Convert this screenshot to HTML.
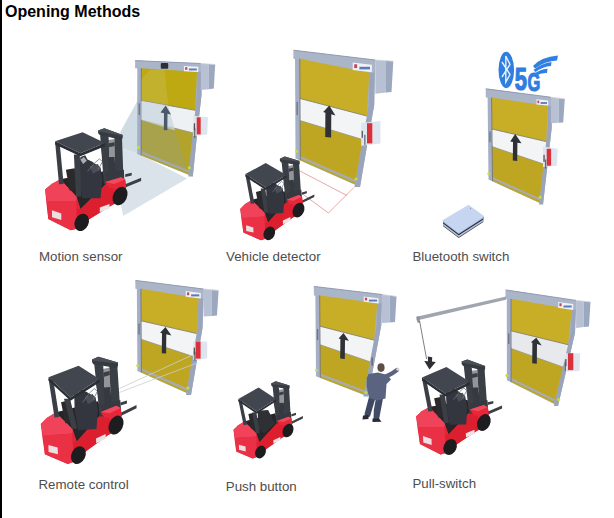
<!DOCTYPE html>
<html><head><meta charset="utf-8">
<style>
html,body{margin:0;padding:0;background:#fff;}
body{width:614px;height:518px;position:relative;overflow:hidden;font-family:"Liberation Sans",sans-serif;}
#bar{position:absolute;left:0;top:0;width:2px;height:518px;background:#000;}
#title{position:absolute;left:5px;top:3.8px;font-size:16px;line-height:16px;font-weight:bold;color:#000;white-space:nowrap;}
.lb{position:absolute;font-size:13.3px;line-height:13.3px;color:#4d4d4d;white-space:nowrap;}
svg{position:absolute;left:0;top:0;}
</style></head><body>
<svg width="614" height="518" viewBox="0 0 614 518">
<polygon points="139.0,98.0 120.3,132.0 121.0,148.0 139.0,154.0" fill="#cfdce4"/>
<polygon points="121.0,148.0 120.0,200.0 123.2,216.0 187.0,178.4 139.0,154.0" fill="#d9e3e9"/>
<polygon points="137.3,60.6 200.8,63.5 201.5,90.0 201.5,95.0 196.5,140.0 192.8,176.6 137.2,154.0" fill="#a5b0c6"/>
<polygon points="135.1,60.6 200.8,63.5 200.8,71.7 135.1,68.2" fill="#abb5c8"/>
<polyline points="135.1,60.6 200.8,63.5" fill="none" stroke="#8d99b0" stroke-width="0.90"/>
<polygon points="197.0,71.7 201.5,71.7 201.5,95.0 196.5,140.0 192.8,176.6 188.3,176.6 192.0,140.0 197.0,95.0" fill="#9aa5bc"/>
<polygon points="141.3,68.2 197.0,71.7 195.3,110.3 141.3,100.5" fill="#bea913"/>
<polygon points="141.3,100.5 195.3,110.3 192.8,132.8 141.2,119.8" fill="#eef1f4"/>
<polygon points="141.2,119.8 192.8,132.8 188.5,174.5 141.2,155.3" fill="#b2a32c"/>
<polygon points="141.2,151.1 188.9,170.3 188.7,172.7 141.2,153.5" fill="#a7acb2"/>
<polyline points="141.3,100.5 195.3,110.3" fill="none" stroke="#858268" stroke-width="0.90"/>
<polyline points="141.2,119.8 192.8,132.8" fill="none" stroke="#9a9a88" stroke-width="0.70"/>
<polyline points="141.3,68.2 141.2,155.3" fill="none" stroke="#6d7078" stroke-width="0.80"/>
<polygon points="141.3,100.8 168.2,105.6 175.0,130.5 141.3,120.0" fill="#c9d5e1" opacity="0.75"/>
<polygon points="141.3,120.3 175.0,130.8 187.0,171.5 141.3,153.0" fill="#8c9fae" opacity="0.25"/>
<polygon points="164.5,69.0 150.0,70.0 141.3,80.0 141.3,100.5 168.2,105.3" fill="#e8eef0" opacity="0.12"/>
<polygon points="165.7,105.5 171.0,114.5 167.5,113.8 167.3,130.3 163.8,130.0 164.0,113.2 160.5,112.5" fill="#4b5968"/>
<polygon points="183.9,65.9 198.3,66.7 198.3,72.0 183.9,71.2" fill="#eef1f6"/>
<rect x="188.9" y="68.5" width="7.9" height="1.9" fill="#5a7ab8"/>
<rect x="185.1" y="67.2" width="2.2" height="2.6" fill="#c04858"/>
<polygon points="200.8,63.5 208.5,64.0 208.5,89.2 200.8,90.0" fill="#b7c1d3"/>
<polygon points="208.5,64.0 215.2,64.5 213.8,88.6 208.5,89.2" fill="#9ca8bf"/>
<polyline points="200.8,63.5 208.5,64.0 215.2,64.5" fill="none" stroke="#cfd3da" stroke-width="0.80"/>
<polygon points="193.4,115.7 208.0,117.3 207.2,134.4 193.4,136.0" fill="#dfe5ee"/>
<rect x="196.7" y="117.3" width="4.0" height="17.1" fill="#d9303a"/>
<rect x="193.8" y="123.3" width="1.3" height="7.0" fill="#50535a"/>
<rect x="138.6" y="103.4" width="1.3" height="11.6" fill="#5f6470" opacity="0.8"/>
<rect x="194.1" y="128.3" width="1.3" height="9.5" fill="#4a4f5a" opacity="0.8"/>
<circle cx="138.5" cy="147.5" r="1.5" fill="#c9dd40"/>
<circle cx="189.3" cy="167.8" r="1.5" fill="#c9dd40"/>
<rect x="160.8" y="63.0" width="7.4" height="5.7" fill="#2c3036" rx="1"/>
<polygon points="45.1,189.5 51.6,183.9 60.4,179.3 104.4,173.7 121.5,177.4 125.2,180.2 126.2,187.6 122.0,200.8 111.8,205.2 88.4,219.8 77.5,228.4 70.8,230.3 48.3,219.1 46.5,203.9" fill="#e3253a"/>
<polygon points="45.1,189.5 51.6,183.9 60.4,179.3 77.1,196.9 75.9,201.1 46.9,201.1" fill="#f0435a"/>
<polygon points="46.9,201.1 75.9,201.1 77.5,228.4 70.8,230.3 48.3,219.1" fill="#e93045"/>
<polygon points="60.4,179.3 103.0,171.4 106.0,183.9 80.5,208.9 76.6,196.4" fill="#262628"/>
<polygon points="77.5,228.4 76.6,209.2 80.5,208.9 106.0,183.9 113.7,183.0 114.6,203.4 88.4,219.8" fill="#dc1f2e"/>
<polygon points="106.0,183.9 121.5,177.9 125.2,180.7 116.4,186.0" fill="#f0465a"/>
<polygon points="52.0,210.3 61.3,213.6 61.3,220.1 52.0,217.3" fill="#ecdfe2"/>
<polygon points="99.8,207.6 109.5,203.9 109.5,208.5 99.8,212.2" fill="#eee2e5"/>
<polygon points="125.2,174.3 131.7,172.7 131.7,175.6 125.2,177.1" fill="#3a3e45"/>
<polygon points="125.2,184.3 141.1,177.8 141.1,181.0 125.2,187.5" fill="#3a3e45"/>
<polygon points="65.9,169.8 74.7,168.2 79.4,189.5 69.6,190.4" fill="#2a2a2c"/>
<polygon points="79.3,162.5 80.5,157.1 85.2,155.2 87.5,159.4 91.9,161.6 100.5,167.4 102.5,179.0 100.5,198.3 82.2,198.3 79.3,179.0" fill="#33363e"/>
<polygon points="80.3,159.4 84.0,157.1 86.8,160.8 83.1,164.0" fill="#a9aeb6"/>
<polygon points="89.8,166.3 97.9,164.0 100.7,169.8 92.8,173.7" fill="#4a4e57"/>
<polyline points="87.5,171.4 94.7,162.9 99.5,158.9 102.5,161.7 97.9,169.8" fill="none" stroke="#6f7580" stroke-width="0.81"/>
<polygon points="55.2,142.9 59.7,143.2 63.6,183.9 59.0,184.2" fill="#3a3e45"/>
<polygon points="73.9,154.5 79.8,154.5 81.3,196.4 76.0,196.4" fill="#3a3e45"/>
<polygon points="100.8,144.7 104.5,144.7 109.0,178.8 105.3,178.8" fill="#3a3e45"/>
<polygon points="100.0,133.6 108.6,136.6 110.0,183.5 103.9,183.9" fill="#3a3e45"/>
<polygon points="114.4,137.4 122.0,137.7 123.5,180.0 115.0,180.7" fill="#3a3e45"/>
<polygon points="108.3,157.1 114.6,157.1 116.4,182.5 109.5,184.9" fill="#353940"/>
<polygon points="104.9,173.3 123.9,169.8 124.3,180.7 113.7,185.3 107.2,183.9" fill="#363a40"/>
<polygon points="108.1,139.9 114.6,139.0 114.6,158.2 109.5,159.4" fill="#3a3e45" opacity="0.55"/>
<polygon points="108.6,143.2 114.6,142.2 114.6,145.9 108.6,147.3" fill="#3a3e45"/>
<polygon points="105.3,182.1 121.1,177.2 125.2,179.5 126.2,187.2 118.8,190.0 108.6,187.6" fill="#e8263a"/>
<polygon points="105.3,182.1 121.1,177.2 125.2,179.5 114.1,183.9" fill="#f04a5e"/>
<ellipse cx="81.7" cy="222.4" rx="6.9" ry="9.0" fill="#1d1d1f" transform="rotate(25 81.7 222.4)"/>
<ellipse cx="120.1" cy="196.0" rx="6.9" ry="9.7" fill="#1d1d1f" transform="rotate(25 120.1 196.0)"/>
<polygon points="98.1,130.4 104.3,128.2 122.8,134.9 122.7,137.6 121.7,139.9 99.3,134.8 98.1,133.0" fill="#363a41"/>
<polygon points="98.1,130.4 104.3,128.2 122.8,134.9 121.7,135.8 99.3,131.6" fill="#4a4f57"/>
<polygon points="55.1,141.3 80.3,153.2 105.0,143.1 105.0,146.2 80.3,156.3 55.1,144.4" fill="#2a2e35"/>
<polygon points="55.1,141.3 82.6,132.2 105.0,143.1 80.3,153.2" fill="#41464f"/>
<polygon points="295.0,50.2 375.3,60.0 374.4,93.7 374.2,105.0 367.5,143.0 360.0,187.0 295.5,158.5" fill="#a5b0c6"/>
<polygon points="293.4,50.2 375.3,60.0 375.3,72.8 293.4,58.7" fill="#abb5c8"/>
<polyline points="293.4,50.2 375.3,60.0" fill="none" stroke="#8d99b0" stroke-width="0.90"/>
<polygon points="369.3,72.8 374.8,72.8 374.2,105.0 367.5,143.0 360.0,187.0 354.5,187.0 362.0,143.0 368.7,105.0" fill="#9aa5bc"/>
<polygon points="299.8,58.7 369.3,72.8 366.8,116.0 300.0,98.5" fill="#c8ae26"/>
<polygon points="300.0,98.5 366.8,116.0 362.6,139.5 300.1,120.6" fill="#f3f4f6"/>
<polygon points="300.1,120.6 362.6,139.5 355.0,184.3 300.3,160.3" fill="#bea622"/>
<polygon points="300.3,156.1 355.7,180.1 355.3,182.5 300.3,158.5" fill="#a7acb2"/>
<polyline points="300.0,98.5 366.8,116.0" fill="none" stroke="#858268" stroke-width="0.90"/>
<polyline points="300.1,120.6 362.6,139.5" fill="none" stroke="#9a9a88" stroke-width="0.70"/>
<polyline points="299.8,58.7 300.3,160.3" fill="none" stroke="#6d7078" stroke-width="0.80"/>
<polygon points="329.3,105.6 335.4,115.4 331.3,114.3 331.1,137.5 325.2,136.9 325.4,112.7 323.2,112.1" fill="#2e3136"/>
<polygon points="352.7,62.4 371.9,64.8 371.9,72.3 352.7,69.9" fill="#eef1f6"/>
<rect x="359.4" y="66.8" width="10.6" height="2.6" fill="#5a7ab8"/>
<rect x="354.2" y="64.3" width="2.9" height="3.8" fill="#c04858"/>
<polygon points="375.3,60.0 386.0,60.7 386.0,92.5 375.3,93.7" fill="#b7c1d3"/>
<polygon points="386.0,60.7 393.3,61.2 391.5,91.9 386.0,92.5" fill="#9ca8bf"/>
<polyline points="375.3,60.0 386.0,60.7 393.3,61.2" fill="none" stroke="#cfd3da" stroke-width="0.80"/>
<polygon points="361.2,123.0 380.5,121.0 380.5,143.6 361.2,145.8" fill="#dfe5ee"/>
<rect x="367.0" y="123.2" width="5.3" height="20.2" fill="#d9303a"/>
<rect x="361.6" y="130.8" width="1.3" height="7.0" fill="#50535a"/>
<rect x="296.5" y="101.8" width="1.3" height="13.3" fill="#5f6470" opacity="0.8"/>
<rect x="364.2" y="134.8" width="1.3" height="10.1" fill="#4a4f5a" opacity="0.8"/>
<circle cx="296.5" cy="151.2" r="1.5" fill="#c9dd40"/>
<circle cx="356.0" cy="178.9" r="1.5" fill="#c9dd40"/>
<polyline points="299.0,170.5 346.7,195.4" fill="none" stroke="#df8a8a" stroke-width="0.75"/>
<polyline points="354.0,187.4 328.4,213.0 302.7,194.0" fill="none" stroke="#df8a8a" stroke-width="0.75"/>
<polygon points="240.2,208.9 245.1,204.1 251.8,199.9 285.7,193.1 299.1,195.2 302.0,197.2 302.9,203.1 300.0,213.9 292.2,218.0 274.4,231.0 266.2,238.4 261.1,240.3 243.4,232.5 241.6,220.4" fill="#e3253a"/>
<polygon points="240.2,208.9 245.1,204.1 251.8,199.9 265.1,213.2 264.3,216.6 241.9,218.1" fill="#f0435a"/>
<polygon points="241.9,218.1 264.3,216.6 266.2,238.4 261.1,240.3 243.4,232.5" fill="#e93045"/>
<polygon points="251.8,199.9 284.6,191.3 287.2,201.2 268.1,222.6 264.8,212.8" fill="#262628"/>
<polygon points="266.2,238.4 265.1,223.0 268.1,222.6 287.2,201.2 293.1,200.1 294.3,216.4 274.4,231.0" fill="#dc1f2e"/>
<polygon points="287.2,201.2 299.1,195.6 302.0,197.6 295.4,202.3" fill="#f0465a"/>
<polygon points="246.1,225.3 253.3,227.4 253.5,232.6 246.2,230.9" fill="#ecdfe2"/>
<polygon points="282.9,220.5 290.4,217.0 290.5,220.7 283.0,224.2" fill="#eee2e5"/>
<polygon points="301.9,192.4 306.8,190.9 306.9,193.2 301.9,194.8" fill="#3a3e45"/>
<polygon points="302.1,200.5 314.3,194.4 314.3,197.0 302.2,203.0" fill="#3a3e45"/>
<polygon points="255.9,192.0 262.7,190.3 266.7,207.1 259.2,208.4" fill="#2a2a2c"/>
<polygon points="266.1,185.5 266.9,181.0 270.4,179.3 272.3,182.5 275.8,184.0 282.6,188.2 284.4,197.5 283.3,213.0 269.1,214.0 266.5,198.7" fill="#33363e"/>
<polygon points="266.8,182.9 269.6,180.8 271.8,183.7 269.0,186.5" fill="#a9aeb6"/>
<polygon points="274.3,188.0 280.5,185.7 282.8,190.2 276.8,193.7" fill="#4a4e57"/>
<polyline points="272.6,192.2 278.0,184.9 281.6,181.5 284.0,183.6 280.6,190.3" fill="none" stroke="#6f7580" stroke-width="0.64"/>
<polygon points="245.5,175.3 249.1,175.6 254.5,203.6 250.8,203.8" fill="#3a3e45"/>
<polygon points="260.7,188.6 265.3,188.6 268.5,212.7 264.3,212.7" fill="#3a3e45"/>
<polygon points="283.1,176.3 286.0,176.3 289.5,197.0 286.5,197.0" fill="#3a3e45"/>
<polygon points="281.5,161.2 288.4,163.3 290.6,201.9 285.8,202.6" fill="#3a3e45"/>
<polygon points="293.0,163.6 299.1,163.4 301.3,198.3 294.5,199.3" fill="#3a3e45"/>
<polygon points="288.7,180.2 293.7,179.8 295.7,200.8 290.3,203.1" fill="#353940"/>
<polygon points="286.3,193.8 301.3,189.8 302.0,198.8 293.6,203.2 288.4,202.4" fill="#363a40"/>
<polygon points="288.1,166.0 293.2,164.9 293.7,180.8 289.6,182.0" fill="#3a3e45" opacity="0.55"/>
<polygon points="288.5,168.7 293.3,167.6 293.4,170.6 288.6,172.1" fill="#3a3e45"/>
<polygon points="286.7,199.8 298.7,195.0 302.0,196.7 302.9,202.7 297.2,205.4 289.3,204.1" fill="#e8263a"/>
<polygon points="286.7,199.8 298.7,195.0 302.0,196.7 293.5,200.8" fill="#f04a5e"/>
<ellipse cx="269.3" cy="233.4" rx="5.5" ry="7.1" fill="#1d1d1f" transform="rotate(25 269.3 233.4)"/>
<ellipse cx="298.5" cy="210.1" rx="5.5" ry="7.7" fill="#1d1d1f" transform="rotate(25 298.5 210.1)"/>
<polygon points="279.9,158.7 284.8,156.5 299.7,161.1 299.7,163.3 298.9,165.3 280.9,162.3 279.9,160.8" fill="#363a41"/>
<polygon points="279.9,158.7 284.8,156.5 299.7,161.1 298.8,161.8 280.9,159.6" fill="#4a4f57"/>
<polygon points="245.4,174.1 265.7,187.6 286.4,175.1 286.4,177.6 265.7,190.1 245.4,176.6" fill="#2a2e35"/>
<polygon points="245.4,174.1 265.7,163.1 286.4,175.1 265.7,187.6" fill="#41464f"/>
<polygon points="487.5,88.8 550.9,97.2 551.7,123.2 551.7,128.0 543.0,204.5 488.5,179.6" fill="#a5b0c6"/>
<polygon points="485.7,88.8 550.9,97.2 550.9,105.9 485.8,97.6" fill="#abb5c8"/>
<polyline points="485.7,88.8 550.9,97.2" fill="none" stroke="#8d99b0" stroke-width="0.90"/>
<polygon points="547.9,105.9 551.9,105.9 551.7,128.0 543.0,204.5 539.0,204.5 547.7,128.0" fill="#9aa5bc"/>
<polygon points="491.6,97.6 547.9,105.9 546.2,141.6 491.9,129.0" fill="#c8ae26"/>
<polygon points="491.9,129.0 546.2,141.6 543.6,164.0 492.1,146.6" fill="#f3f4f6"/>
<polygon points="492.1,146.6 543.6,164.0 539.2,202.4 492.5,181.1" fill="#bea622"/>
<polygon points="492.5,176.9 539.7,198.2 539.4,200.6 492.5,179.3" fill="#a7acb2"/>
<polyline points="491.9,129.0 546.2,141.6" fill="none" stroke="#858268" stroke-width="0.90"/>
<polyline points="492.1,146.6 543.6,164.0" fill="none" stroke="#9a9a88" stroke-width="0.70"/>
<polyline points="491.6,97.6 492.5,181.1" fill="none" stroke="#6d7078" stroke-width="0.80"/>
<polygon points="515.2,134.0 521.5,143.3 517.4,142.7 517.2,160.9 512.8,160.5 513.0,142.0 510.2,141.6" fill="#2e3136"/>
<polygon points="536.5,99.3 548.2,100.4 548.2,105.6 536.5,104.5" fill="#eef1f6"/>
<rect x="540.6" y="102.1" width="6.4" height="1.8" fill="#5a7ab8"/>
<rect x="537.4" y="100.6" width="1.8" height="2.6" fill="#c04858"/>
<polygon points="550.9,97.2 558.7,98.2 558.7,122.7 550.9,123.2" fill="#b7c1d3"/>
<polygon points="558.7,98.2 564.8,98.9 563.2,122.4 558.7,122.7" fill="#9ca8bf"/>
<polyline points="550.9,97.2 558.7,98.2 564.8,98.9" fill="none" stroke="#cfd3da" stroke-width="0.80"/>
<polygon points="543.0,146.6 557.7,148.8 557.0,165.7 543.0,167.1" fill="#dfe5ee"/>
<rect x="546.7" y="148.8" width="4.4" height="16.9" fill="#d9303a"/>
<rect x="543.4" y="154.8" width="1.3" height="7.0" fill="#50535a"/>
<rect x="489.3" y="131.6" width="1.3" height="10.6" fill="#5f6470" opacity="0.8"/>
<rect x="544.9" y="159.5" width="1.3" height="9.1" fill="#4a4f5a" opacity="0.8"/>
<circle cx="488.8" cy="173.7" r="1.5" fill="#c9dd40"/>
<circle cx="540.1" cy="197.2" r="1.5" fill="#c9dd40"/>
<ellipse cx="506.3" cy="70" rx="7.8" ry="18.2" fill="#2f7fe0"/>
<polyline points="502,62 510,74.5 505.8,82 505.8,56 510,64.5 502,77" fill="none" stroke="#e8f0fb" stroke-width="1.4" stroke-linejoin="miter"/>
<text x="0" y="0" font-family="Liberation Sans" font-weight="bold" font-size="30.5" fill="#2f7de0" stroke="#2f7de0" stroke-width="1.2" transform="translate(514.8 90.3) scale(0.72 1)">5</text>
<text x="0" y="0" font-family="Liberation Sans" font-weight="bold" font-size="26.5" fill="#2f7de0" stroke="#2f7de0" stroke-width="1.2" transform="translate(527.6 91.1) scale(0.62 1)">G</text>
<path d="M533,66 Q541,57 558,55.5 L557,60.5 Q545,61 535,68.5 Z" fill="#2f80e2"/>
<path d="M533.5,70 Q541,63.5 551.5,62 L551,66 Q543,66.5 535.5,72 Z" fill="#2f80e2"/>
<path d="M534.5,73.5 Q540,69.5 547.5,68.8 L547,73 Q541,72.5 536.5,75.5 Z" fill="#2f80e2"/>
<polygon points="443.2,220.4 458.7,232.2 483.3,216.3 483.3,222.1 458.7,238.0 443.2,226.2" fill="#3a4252"/>
<polygon points="443.2,220.4 458.7,232.2 483.3,216.3 483.3,221.3 458.7,237.2 443.2,225.4" fill="#b5bfcd"/>
<polygon points="443.2,220.4 458.7,232.2 483.3,216.3 483.3,219.4 458.7,235.3 443.2,223.5" fill="#1f2640"/>
<polygon points="443.2,220.4 458.7,232.2 483.3,216.3 483.3,218.2 458.7,234.1 443.2,222.3" fill="#aec2e2"/>
<polygon points="443.2,220.4 468.5,205.5 483.3,216.3 458.7,232.2" fill="#c6d6f0" stroke="#c6d6f0" stroke-width="1.2" stroke-linejoin="round"/>
<circle cx="470.5" cy="208.5" r="0.7" fill="#8e9cb5"/>
<polygon points="136.8,280.4 203.6,289.0 202.9,316.5 202.5,328.0 191.0,395.0 137.4,370.9" fill="#a5b0c6"/>
<polygon points="135.3,280.4 203.6,289.0 203.6,298.2 135.4,288.8" fill="#abb5c8"/>
<polyline points="135.3,280.4 203.6,289.0" fill="none" stroke="#8d99b0" stroke-width="0.90"/>
<polygon points="198.6,298.2 203.6,298.2 202.5,328.0 191.0,395.0 186.0,395.0 197.5,328.0" fill="#9aa5bc"/>
<polygon points="140.9,288.8 198.6,298.2 196.6,333.5 141.1,320.8" fill="#c8ae26"/>
<polygon points="141.1,320.8 196.6,333.5 192.6,356.3 141.2,339.3" fill="#f3f4f6"/>
<polygon points="141.2,339.3 192.6,356.3 186.4,392.5 141.4,372.4" fill="#bea622"/>
<polygon points="141.4,368.2 187.2,388.3 186.7,390.7 141.4,370.6" fill="#a7acb2"/>
<polyline points="141.1,320.8 196.6,333.5" fill="none" stroke="#858268" stroke-width="0.90"/>
<polyline points="141.2,339.3 192.6,356.3" fill="none" stroke="#9a9a88" stroke-width="0.70"/>
<polyline points="140.9,288.8 141.4,372.4" fill="none" stroke="#6d7078" stroke-width="0.80"/>
<polygon points="165.5,327.0 171.4,335.4 166.3,334.2 166.1,353.6 161.8,353.2 162.0,333.2 160.1,332.8" fill="#2e3136"/>
<polygon points="185.8,291.0 200.8,292.9 200.8,298.6 185.8,296.7" fill="#eef1f6"/>
<rect x="191.1" y="294.4" width="8.2" height="2.0" fill="#5a7ab8"/>
<rect x="187.0" y="292.4" width="2.2" height="2.8" fill="#c04858"/>
<polygon points="203.6,289.0 211.9,289.8 211.9,315.9 203.6,316.5" fill="#b7c1d3"/>
<polygon points="211.9,289.8 218.6,290.4 217.0,315.5 211.9,315.9" fill="#9ca8bf"/>
<polyline points="203.6,289.0 211.9,289.8 218.6,290.4" fill="none" stroke="#cfd3da" stroke-width="0.80"/>
<polygon points="193.3,341.6 207.2,341.6 207.2,358.6 193.3,360.1" fill="#dfe5ee"/>
<rect x="195.6" y="341.6" width="5.0" height="17.0" fill="#d9303a"/>
<rect x="193.7" y="347.6" width="1.3" height="7.0" fill="#50535a"/>
<rect x="138.4" y="323.6" width="1.3" height="11.1" fill="#5f6470" opacity="0.8"/>
<rect x="194.2" y="351.7" width="1.3" height="8.9" fill="#4a4f5a" opacity="0.8"/>
<circle cx="137.7" cy="365.5" r="1.5" fill="#c9dd40"/>
<circle cx="187.9" cy="387.9" r="1.5" fill="#c9dd40"/>
<polyline points="119.3,388.6 191.6,355.4" fill="none" stroke="#c9d0cc" stroke-width="0.80"/>
<polyline points="119.3,392.5 196.5,363.2" fill="none" stroke="#c9d0cc" stroke-width="0.80"/>
<polygon points="40.8,424.0 47.1,417.8 55.8,412.4 99.6,403.5 116.9,406.0 120.7,408.6 121.8,416.1 118.1,430.0 108.0,435.2 85.0,451.9 74.4,461.5 67.8,463.9 44.9,454.2 42.6,438.7" fill="#e3253a"/>
<polygon points="40.8,424.0 47.1,417.8 55.8,412.4 73.0,429.3 72.0,433.6 43.0,435.8" fill="#f0435a"/>
<polygon points="43.0,435.8 72.0,433.6 74.4,461.5 67.8,463.9 44.9,454.2" fill="#e93045"/>
<polygon points="55.8,412.4 98.1,401.2 101.5,413.8 76.8,441.4 72.5,428.8" fill="#262628"/>
<polygon points="74.4,461.5 72.9,441.9 76.8,441.4 101.5,413.8 109.2,412.3 110.7,433.1 85.0,451.9" fill="#dc1f2e"/>
<polygon points="101.5,413.8 116.9,406.5 120.7,409.1 112.0,415.2" fill="#f0465a"/>
<polygon points="48.4,444.9 57.7,447.5 57.9,454.2 48.6,452.0" fill="#ecdfe2"/>
<polygon points="96.0,438.5 105.6,434.0 105.8,438.7 96.2,443.3" fill="#eee2e5"/>
<polygon points="120.4,402.5 126.9,400.4 127.0,403.4 120.5,405.4" fill="#3a3e45"/>
<polygon points="120.7,412.7 136.5,404.9 136.6,408.2 120.8,416.0" fill="#3a3e45"/>
<polygon points="61.0,402.3 69.8,400.0 75.1,421.5 65.4,423.2" fill="#2a2a2c"/>
<polygon points="74.2,393.8 75.2,388.1 79.8,385.9 82.3,390.0 86.7,391.9 95.5,397.3 97.9,409.0 96.5,429.0 78.2,430.3 74.7,410.8" fill="#33363e"/>
<polygon points="75.1,390.5 78.7,387.9 81.6,391.5 78.0,395.1" fill="#a9aeb6"/>
<polygon points="84.8,397.0 92.8,394.0 95.8,399.7 88.0,404.3" fill="#4a4e57"/>
<polyline points="82.6,402.4 89.5,393.0 94.3,388.6 97.4,391.3 93.0,399.9" fill="none" stroke="#6f7580" stroke-width="0.82"/>
<polygon points="48.6,378.9 53.2,379.2 59.2,417.1 54.5,417.4" fill="#3a3e45"/>
<polygon points="64.0,398.8 70.0,398.8 77.3,428.7 71.9,428.7" fill="#3a3e45"/>
<polygon points="95.3,380.6 99.0,380.6 104.4,408.5 100.7,408.5" fill="#3a3e45"/>
<polygon points="94.1,362.8 103.2,365.4 106.1,415.7 99.8,416.7" fill="#3a3e45"/>
<polygon points="109.3,365.8 117.3,365.5 120.3,410.9 111.4,412.3" fill="#3a3e45"/>
<polygon points="103.6,387.4 110.2,386.9 112.9,414.2 105.7,417.3" fill="#353940"/>
<polygon points="100.5,405.1 120.3,399.9 121.1,411.6 110.1,417.4 103.2,416.4" fill="#363a40"/>
<polygon points="102.8,369.0 109.6,367.5 110.2,388.2 104.9,389.8" fill="#3a3e45" opacity="0.55"/>
<polygon points="103.4,372.4 109.7,371.0 109.8,375.0 103.5,376.9" fill="#3a3e45"/>
<polygon points="100.8,412.0 116.4,405.8 120.6,407.9 121.8,415.6 114.5,419.0 104.2,417.4" fill="#e8263a"/>
<polygon points="100.8,412.0 116.4,405.8 120.6,407.9 109.7,413.2" fill="#f04a5e"/>
<ellipse cx="78.4" cy="455.1" rx="7.0" ry="9.2" fill="#1d1d1f" transform="rotate(25 78.4 455.1)"/>
<ellipse cx="116.0" cy="425.1" rx="7.0" ry="9.9" fill="#1d1d1f" transform="rotate(25 116.0 425.1)"/>
<polygon points="92.0,359.5 98.4,356.7 118.0,362.4 118.0,365.3 117.1,367.9 93.4,364.2 92.1,362.3" fill="#363a41"/>
<polygon points="92.0,359.5 98.4,356.7 118.0,362.4 116.9,363.4 93.3,360.7" fill="#4a4f57"/>
<polygon points="48.5,377.3 70.5,397.5 99.5,379.0 99.5,382.2 70.5,400.7 48.5,380.5" fill="#2a2e35"/>
<polygon points="48.5,377.3 78.6,365.8 99.5,379.0 70.5,397.5" fill="#41464f"/>
<polygon points="315.3,286.4 382.0,294.5 381.3,323.0 381.3,325.0 367.9,396.5 316.0,376.3" fill="#a5b0c6"/>
<polygon points="313.8,286.4 382.0,294.5 382.0,303.2 313.9,295.4" fill="#abb5c8"/>
<polyline points="313.8,286.4 382.0,294.5" fill="none" stroke="#8d99b0" stroke-width="0.90"/>
<polygon points="377.3,303.2 381.8,303.2 381.3,325.0 367.9,396.5 363.4,396.5 376.8,325.0" fill="#9aa5bc"/>
<polygon points="319.7,295.4 377.3,303.2 374.0,340.1 319.9,326.2" fill="#c8ae26"/>
<polygon points="319.9,326.2 374.0,340.1 369.9,361.7 320.1,344.7" fill="#f3f4f6"/>
<polygon points="320.1,344.7 369.9,361.7 363.8,394.4 320.3,377.7" fill="#bea622"/>
<polygon points="320.3,373.5 364.6,390.2 364.1,392.6 320.3,375.9" fill="#a7acb2"/>
<polyline points="319.9,326.2 374.0,340.1" fill="none" stroke="#858268" stroke-width="0.90"/>
<polyline points="320.1,344.7 369.9,361.7" fill="none" stroke="#9a9a88" stroke-width="0.70"/>
<polyline points="319.7,295.4 320.3,377.7" fill="none" stroke="#6d7078" stroke-width="0.80"/>
<polygon points="343.5,333.1 348.9,340.8 345.0,339.9 344.8,359.1 340.2,358.6 340.4,338.9 338.6,338.5" fill="#2e3136"/>
<polygon points="363.7,296.4 378.6,298.2 378.6,303.5 363.7,301.7" fill="#eef1f6"/>
<rect x="368.9" y="299.6" width="8.2" height="1.9" fill="#5a7ab8"/>
<rect x="364.9" y="297.7" width="2.2" height="2.7" fill="#c04858"/>
<polygon points="382.0,294.5 389.7,295.5 389.7,322.4 382.0,323.0" fill="#b7c1d3"/>
<polygon points="389.7,295.5 396.5,296.4 395.0,322.0 389.7,322.4" fill="#9ca8bf"/>
<polyline points="382.0,294.5 389.7,295.5 396.5,296.4" fill="none" stroke="#cfd3da" stroke-width="0.80"/>
<rect x="316.9" y="329.0" width="1.3" height="11.1" fill="#5f6470" opacity="0.8"/>
<rect x="371.5" y="357.4" width="1.3" height="8.2" fill="#4a4f5a" opacity="0.8"/>
<circle cx="316.5" cy="370.2" r="1.5" fill="#c9dd40"/>
<circle cx="365.9" cy="392.6" r="1.5" fill="#c9dd40"/>
<polygon points="369.0,397.0 375.5,398.0 370.0,416.5 365.5,418.0 364.5,414.0" fill="#3f4861"/>
<polygon points="376.0,398.0 383.0,398.5 379.0,419.5 373.5,420.0 373.8,410.0" fill="#434c66"/>
<polygon points="363.0,415.5 368.5,415.0 368.5,419.0 362.5,419.5" fill="#262a33"/>
<polygon points="372.5,418.5 379.0,418.5 381.5,421.8 372.5,422.0" fill="#262a33"/>
<polygon points="368.5,374.0 378.0,372.5 387.5,375.0 391.0,379.5 386.5,384.0 385.5,398.5 377.0,400.5 369.0,398.0 366.6,386.0 366.8,378.0" fill="#5a6480"/>
<polyline points="385.0,377.0 392.0,373.5 397.0,370.0" fill="none" stroke="#5a6480" stroke-width="4.20" stroke-linecap="round"/>
<circle cx="397.8" cy="369.2" r="1.5" fill="#ddd2cc"/>
<ellipse cx="381" cy="367.6" rx="3.6" ry="4.3" fill="#5d4f48"/>
<polygon points="233.5,429.7 238.2,425.3 244.5,421.4 276.3,415.0 288.7,416.8 291.4,418.7 292.2,424.1 289.4,434.0 282.1,437.8 265.3,449.8 257.5,456.7 252.7,458.4 236.3,451.4 234.7,440.2" fill="#e3253a"/>
<polygon points="233.5,429.7 238.2,425.3 244.5,421.4 256.8,433.5 256.0,436.6 235.0,438.1" fill="#f0435a"/>
<polygon points="235.0,438.1 256.0,436.6 257.5,456.7 252.7,458.4 236.3,451.4" fill="#e93045"/>
<polygon points="244.5,421.4 275.2,413.3 277.6,422.4 259.5,442.2 256.4,433.2" fill="#262628"/>
<polygon points="257.5,456.7 256.6,442.6 259.5,442.2 277.6,422.4 283.1,421.3 284.0,436.3 265.3,449.8" fill="#dc1f2e"/>
<polygon points="277.6,422.4 288.7,417.2 291.5,419.0 285.2,423.4" fill="#f0465a"/>
<polygon points="238.9,444.7 245.6,446.6 245.7,451.4 239.0,449.8" fill="#ecdfe2"/>
<polygon points="273.4,440.2 280.4,436.9 280.4,440.3 273.4,443.6" fill="#eee2e5"/>
<polygon points="291.3,414.3 296.0,412.8 296.0,414.9 291.4,416.4" fill="#3a3e45"/>
<polygon points="291.5,421.6 302.9,416.0 302.9,418.4 291.5,424.0" fill="#3a3e45"/>
<polygon points="248.4,414.1 254.7,412.4 258.4,427.9 251.3,429.1" fill="#2a2a2c"/>
<polygon points="257.7,410.8 268.1,410.1 275.1,423.6 264.3,433.5 258.0,427.9" fill="#2f3034"/>
<polygon points="238.4,400.1 241.7,400.4 246.9,424.8 243.5,424.9" fill="#3a3e45"/>
<polygon points="252.0,412.4 256.3,412.4 259.9,433.1 256.0,433.1" fill="#3a3e45"/>
<polygon points="273.0,400.1 275.7,400.1 279.7,418.6 277.0,418.6" fill="#3a3e45"/>
<polygon points="272.6,385.7 279.0,387.5 280.7,423.0 276.2,423.7" fill="#3a3e45"/>
<polygon points="283.4,387.8 289.1,387.6 290.8,419.6 284.4,420.6" fill="#3a3e45"/>
<polygon points="279.1,403.0 283.8,402.7 285.5,422.0 280.4,424.1" fill="#353940"/>
<polygon points="276.8,415.5 290.9,411.9 291.4,420.1 283.5,424.2 278.6,423.5" fill="#363a40"/>
<polygon points="278.7,390.0 283.5,389.0 283.8,403.6 280.0,404.7" fill="#3a3e45" opacity="0.55"/>
<polygon points="279.1,392.5 283.6,391.4 283.6,394.3 279.2,395.6" fill="#3a3e45"/>
<polygon points="277.0,421.1 288.4,416.7 291.4,418.2 292.2,423.7 286.9,426.2 279.5,425.0" fill="#e8263a"/>
<polygon points="277.0,421.1 288.4,416.7 291.4,418.2 283.4,422.0" fill="#f04a5e"/>
<ellipse cx="260.5" cy="452.0" rx="5.1" ry="6.6" fill="#1d1d1f" transform="rotate(25 260.5 452.0)"/>
<ellipse cx="288.0" cy="430.5" rx="5.1" ry="7.1" fill="#1d1d1f" transform="rotate(25 288.0 430.5)"/>
<polygon points="271.1,383.4 275.7,381.3 289.6,385.4 289.6,387.5 288.9,389.3 272.1,386.6 271.2,385.3" fill="#363a41"/>
<polygon points="271.1,383.4 275.7,381.3 289.6,385.4 288.8,386.1 272.0,384.2" fill="#4a4f57"/>
<polygon points="238.3,399.0 256.7,411.5 276.0,399.0 276.0,401.3 256.7,413.8 238.3,401.3" fill="#2a2e35"/>
<polygon points="238.3,399.0 258.6,387.4 276.0,399.0 256.7,411.5" fill="#41464f"/>
<polygon points="506.8,289.9 576.1,300.4 575.2,328.0 575.0,333.0 558.0,406.0 506.9,380.2" fill="#a5b0c6"/>
<polygon points="505.5,289.9 576.1,300.4 576.1,309.6 505.5,298.8" fill="#abb5c8"/>
<polyline points="505.5,289.9 576.1,300.4" fill="none" stroke="#8d99b0" stroke-width="0.90"/>
<polygon points="571.7,309.6 575.9,309.6 575.0,333.0 558.0,406.0 553.8,406.0 570.8,333.0" fill="#9aa5bc"/>
<polygon points="511.0,298.8 571.7,309.6 568.1,344.7 511.0,330.8" fill="#c8ae26"/>
<polygon points="511.0,330.8 568.1,344.7 562.9,367.0 511.1,348.5" fill="#e8e9ec"/>
<polygon points="511.1,348.5 562.9,367.0 554.4,403.6 511.1,382.0" fill="#bea622"/>
<polygon points="511.1,377.8 555.3,399.4 554.8,401.8 511.1,380.2" fill="#a7acb2"/>
<polyline points="511.0,330.8 568.1,344.7" fill="none" stroke="#858268" stroke-width="0.90"/>
<polyline points="511.1,348.5 562.9,367.0" fill="none" stroke="#9a9a88" stroke-width="0.70"/>
<polyline points="511.0,298.8 511.1,382.0" fill="none" stroke="#6d7078" stroke-width="0.80"/>
<polygon points="536.3,337.7 541.7,345.4 537.0,344.1 536.8,363.7 532.2,363.2 532.4,342.7 530.9,342.3" fill="#2e3136"/>
<polygon points="558.2,301.9 573.2,304.1 573.2,309.9 558.2,307.7" fill="#eef1f6"/>
<rect x="563.5" y="305.5" width="8.2" height="2.0" fill="#5a7ab8"/>
<rect x="559.4" y="303.3" width="2.2" height="2.9" fill="#c04858"/>
<polygon points="576.1,300.4 583.8,301.2 583.8,327.1 576.1,328.0" fill="#b7c1d3"/>
<polygon points="583.8,301.2 590.5,301.9 589.0,326.5 583.8,327.1" fill="#9ca8bf"/>
<polyline points="576.1,300.4 583.8,301.2 590.5,301.9" fill="none" stroke="#cfd3da" stroke-width="0.80"/>
<polygon points="564.8,353.2 580.3,353.2 579.5,370.9 564.8,371.7" fill="#dfe5ee"/>
<rect x="567.9" y="353.2" width="5.4" height="16.9" fill="#d9303a"/>
<rect x="565.2" y="359.1" width="1.3" height="7.0" fill="#50535a"/>
<rect x="508.1" y="333.5" width="1.3" height="10.6" fill="#5f6470" opacity="0.8"/>
<rect x="564.7" y="362.5" width="1.3" height="8.8" fill="#4a4f5a" opacity="0.8"/>
<circle cx="506.9" cy="375.5" r="1.5" fill="#c9dd40"/>
<circle cx="558.7" cy="399.5" r="1.5" fill="#c9dd40"/>
<polygon points="416.5,316.8 506.0,296.6 506.0,299.8 416.5,320.4" fill="#a0a6b0"/>
<polygon points="416.5,316.8 419.5,316.2 420.0,322.5 417.5,322.8" fill="#8e949e"/>
<polyline points="419.6,321.0 426.6,359.0" fill="none" stroke="#5a5f66" stroke-width="0.80"/>
<polygon points="427.8,356.5 432.2,357.2 432.0,361.5 435.8,362.0 429.5,369.5 424.3,361.0 428.0,361.2" fill="#2e3034"/>
<polygon points="416.1,416.5 421.7,411.3 429.5,407.0 468.8,401.8 484.4,405.2 487.8,407.8 488.9,414.7 485.6,427.0 476.6,431.1 456.1,444.7 446.6,452.7 440.6,454.4 420.0,444.1 417.8,429.9" fill="#e3253a"/>
<polygon points="416.1,416.5 421.7,411.3 429.5,407.0 445.1,423.4 444.2,427.3 418.1,427.3" fill="#f0435a"/>
<polygon points="418.1,427.3 444.2,427.3 446.6,452.7 440.6,454.4 420.0,444.1" fill="#e93045"/>
<polygon points="429.5,407.0 467.5,399.7 470.6,411.3 448.6,434.6 444.6,422.9" fill="#262628"/>
<polygon points="446.6,452.7 445.1,434.8 448.6,434.6 470.6,411.3 477.5,410.4 479.0,429.4 456.1,444.7" fill="#dc1f2e"/>
<polygon points="470.6,411.3 484.4,405.7 487.8,408.3 480.1,413.2" fill="#f0465a"/>
<polygon points="423.0,435.9 431.5,438.9 431.7,444.9 423.3,442.4" fill="#ecdfe2"/>
<polygon points="465.8,433.3 474.5,429.8 474.6,434.1 466.0,437.6" fill="#eee2e5"/>
<polygon points="487.5,402.3 493.3,400.9 493.4,403.5 487.6,405.0" fill="#3a3e45"/>
<polygon points="487.9,411.6 502.0,405.5 502.1,408.5 488.0,414.5" fill="#3a3e45"/>
<polygon points="434.1,398.2 442.0,396.7 446.9,416.5 438.2,417.4" fill="#2a2a2c"/>
<polygon points="445.9,391.4 446.8,386.3 450.9,384.6 453.1,388.5 457.2,390.5 465.1,395.9 467.3,406.7 466.2,424.6 449.7,424.7 446.5,406.7" fill="#33363e"/>
<polygon points="446.7,388.5 449.9,386.3 452.5,389.8 449.3,392.8" fill="#a9aeb6"/>
<polygon points="455.4,394.9 462.7,392.8 465.4,398.2 458.4,401.8" fill="#4a4e57"/>
<polyline points="453.5,399.7 459.7,391.7 463.9,388.0 466.7,390.6 462.9,398.2" fill="none" stroke="#6f7580" stroke-width="0.74"/>
<polygon points="422.1,379.0 426.2,379.3 432.6,411.3 428.3,411.5" fill="#3a3e45"/>
<polygon points="439.5,394.6 444.8,394.6 448.9,422.9 444.1,422.9" fill="#3a3e45"/>
<polygon points="466.0,383.2 469.4,383.2 473.2,406.5 469.8,406.5" fill="#3a3e45"/>
<polygon points="463.6,364.6 471.8,367.6 474.8,413.3 469.1,413.8" fill="#3a3e45"/>
<polygon points="477.3,368.3 484.5,368.6 487.4,409.9 479.4,410.6" fill="#3a3e45"/>
<polygon points="472.3,387.5 478.2,387.5 480.9,412.4 474.4,414.7" fill="#353940"/>
<polygon points="469.6,403.4 487.4,400.0 488.2,410.6 478.3,415.1 472.2,413.8" fill="#363a40"/>
<polygon points="471.4,370.8 477.5,369.9 478.2,388.7 473.5,389.8" fill="#3a3e45" opacity="0.55"/>
<polygon points="472.0,374.0 477.6,373.1 477.8,376.7 472.1,378.0" fill="#3a3e45"/>
<polygon points="469.9,409.6 483.9,405.0 487.8,407.2 488.9,414.3 482.3,416.9 473.1,414.7" fill="#e8263a"/>
<polygon points="469.9,409.6 483.9,405.0 487.8,407.2 477.9,411.3" fill="#f04a5e"/>
<ellipse cx="450.1" cy="447.1" rx="6.4" ry="8.3" fill="#1d1d1f" transform="rotate(25 450.1 447.1)"/>
<ellipse cx="483.8" cy="422.5" rx="6.4" ry="8.9" fill="#1d1d1f" transform="rotate(25 483.8 422.5)"/>
<polygon points="461.6,361.5 467.4,359.4 485.1,365.9 485.1,368.5 484.3,370.8 462.9,365.8 461.7,364.0" fill="#363a41"/>
<polygon points="461.6,361.5 467.4,359.4 485.1,365.9 484.1,366.7 462.8,362.7" fill="#4a4f57"/>
<polygon points="422.0,377.6 445.3,393.5 469.8,381.8 469.8,384.7 445.3,396.4 422.0,380.5" fill="#2a2e35"/>
<polygon points="422.0,377.6 446.4,367.0 469.8,381.8 445.3,393.5" fill="#41464f"/>
</svg>
<div id="bar"></div>
<div id="title">Opening Methods</div>
<div class="lb" style="left:39px;top:249.8px">Motion sensor</div>
<div class="lb" style="left:226px;top:249.8px">Vehicle detector</div>
<div class="lb" style="left:412.5px;top:249.8px">Bluetooth switch</div>
<div class="lb" style="left:38.5px;top:477.5px">Remote control</div>
<div class="lb" style="left:225.8px;top:479.5px">Push button</div>
<div class="lb" style="left:412.5px;top:477.3px">Pull-switch</div>
</body></html>
